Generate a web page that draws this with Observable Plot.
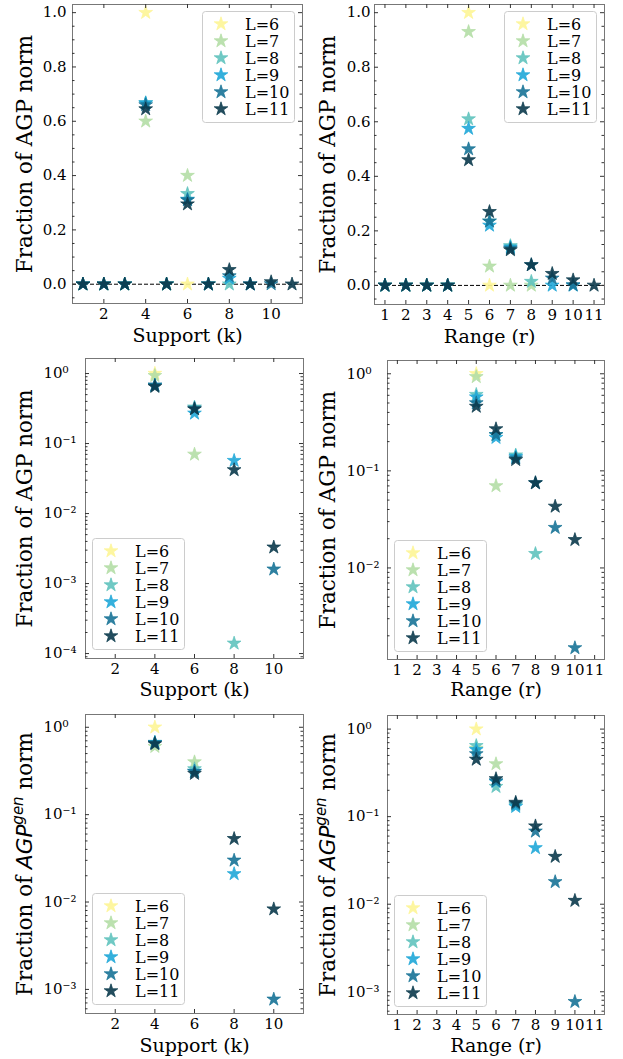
<!DOCTYPE html>
<html><head><meta charset="utf-8">
<script src="https://cdn.jsdelivr.net/npm/d3@7"></script>
<script src="https://cdn.jsdelivr.net/npm/@observablehq/plot@0.6"></script>
<style>
body{margin:0;background:#fff;}
#fig{position:relative;width:623px;height:1059px;overflow:hidden;background:#fff;}
</style></head><body><div id="fig"></div><script>
// ---------- data ----------
const LS = [6, 7, 8, 9, 10, 11];
const seriesNames = LS.map(l => `L=${l}`);
const palette = ["#fdf596", "#b4dea6", "#60c3be", "#1fa7d8", "#187397", "#0b3a4c"];

// rows: [L, x, value]
// Support (k): top-left (linear) and bottom-left (log, AGP^gen)
const supportAgpGen = [
  [6,1,0],[6,2,0],[6,3,0],[6,4,1.0],[6,5,0],[6,6,0],
  [7,1,0],[7,2,0],[7,3,0],[7,4,0.60],[7,5,0],[7,6,0.40],[7,7,0],
  [8,1,0],[8,2,0],[8,3,0],[8,4,0.667],[8,5,0],[8,6,0.333],[8,7,0],[8,8,0],
  [9,1,0],[9,2,0],[9,3,0],[9,4,0.667],[9,5,0],[9,6,0.312],[9,7,0],[9,8,0.021],[9,9,0],
  [10,1,0],[10,2,0],[10,3,0],[10,4,0.66],[10,5,0],[10,6,0.31],[10,7,0],[10,8,0.030],[10,9,0],[10,10,0.00077],
  [11,1,0],[11,2,0],[11,3,0],[11,4,0.645],[11,5,0],[11,6,0.295],[11,7,0],[11,8,0.053],[11,9,0],[11,10,0.0083],[11,11,0]
];
// Range (r): top-right (linear) and middle-right (log)
const rangeAgp = [
  [6,1,0],[6,2,0],[6,3,0],[6,4,0],[6,5,1.0],[6,6,0],
  [7,1,0],[7,2,0],[7,3,0],[7,4,0],[7,5,0.93],[7,6,0.07],[7,7,0],[7,8,0],
  [8,1,0],[8,2,0],[8,3,0],[8,4,0],[8,5,0.61],[8,6,0.235],[8,7,0.145],[8,8,0.014],
  [9,1,0],[9,2,0],[9,3,0],[9,4,0],[9,5,0.575],[9,6,0.22],[9,7,0.14],[9,9,0],[9,10,0],
  [10,1,0],[10,2,0],[10,3,0],[10,4,0],[10,5,0.50],[10,6,0.235],[10,7,0.135],[10,8,0.075],[10,9,0.026],[10,10,0.0015],
  [11,1,0],[11,2,0],[11,3,0],[11,4,0],[11,5,0.46],[11,6,0.27],[11,7,0.13],[11,8,0.075],[11,9,0.043],[11,10,0.0195],[11,11,0]
];
// Support (k): middle-left (log)
const supportAgp = [
  [6,4,1.0],
  [7,4,0.93],[7,6,0.07],
  [8,4,0.67],[8,6,0.33],[8,8,0.00014],
  [9,4,0.673],[9,6,0.27],[9,8,0.057],
  [10,4,0.68],[10,6,0.318],[10,10,0.0016],
  [11,4,0.65],[11,6,0.31],[11,8,0.042],[11,10,0.0033]
];
// Range (r): bottom-right (log, AGP^gen)
const rangeAgpGen = [
  [6,5,1.0],
  [7,5,0.60],[7,6,0.40],
  [8,5,0.645],[8,6,0.22],[8,7,0.135],
  [9,5,0.58],[9,6,0.25],[9,7,0.13],[9,8,0.044],
  [10,5,0.52],[10,6,0.255],[10,7,0.14],[10,8,0.068],[10,9,0.018],[10,10,0.00077],
  [11,5,0.45],[11,6,0.27],[11,7,0.145],[11,8,0.078],[11,9,0.035],[11,10,0.011]
];

const supportTicks = [2, 4, 6, 8, 10];
const rangeTicks = [1, 2, 3, 4, 5, 6, 7, 8, 9, 10, 11];
const linearTicks = [0, 0.2, 0.4, 0.6, 0.8, 1.0];
const yLabelAgp = "Fraction of AGP norm";
const yLabelGen = "Fraction of AGPgen norm";
const xLabelSupport = "Support (k)";
const xLabelRange = "Range (r)";

// ---------- drawing ----------
const fig = document.getElementById("fig");
const FONT = "DejaVu Serif";
const starR = 4.3;
const TICK_FS = 15;
const SUP = {"0":"⁰","1":"¹","2":"²","3":"³","4":"⁴","5":"⁵","6":"⁶","7":"⁷","8":"⁸","9":"⁹","-":"⁻"};
const logFmt = v => "10" + String(Math.round(Math.log10(v))).split("").map(c => SUP[c]).join("");

function panel(o) {
  const rows = o.data.map(([L, x, v]) => ({L, x, v})).filter(d => !o.log || d.v > 0);
  const innerW = o.width - o.mL - o.mR, innerH = o.height - o.mT - o.mB;
  let yMajor, yMinor;
  if (o.log) {
    yMajor = []; yMinor = [];
    for (let e = -5; e <= 1; e++) {
      const b = Math.pow(10, e);
      if (b >= o.yDomain[0] && b <= o.yDomain[1]) yMajor.push(b);
      for (let m = 2; m <= 9; m++) { const v = m * b; if (v >= o.yDomain[0] && v <= o.yDomain[1]) yMinor.push(v); }
    }
  } else {
    yMajor = linearTicks;
    yMinor = d3.range(-0.05, 1.0501, 0.05).filter(v => v >= o.yDomain[0] && v <= o.yDomain[1] && Math.abs(Math.round(v * 5) - v * 5) > 1e-6);
  }
  const tk = {stroke: "#333", strokeWidth: 1};
  const svg = Plot.plot({
    width: o.width, height: o.height,
    marginLeft: o.mL, marginRight: o.mR, marginTop: o.mT, marginBottom: o.mB,
    style: {fontFamily: FONT, fontSize: TICK_FS + "px", background: "transparent", overflow: "visible"},
    x: {domain: [0.5, 11.5], label: null},
    y: o.log ? {type: "log", domain: o.yDomain, label: null} : {domain: o.yDomain, label: null},
    color: {type: "ordinal", domain: LS, range: palette},
    marks: [
      o.log ? null : Plot.ruleY([0], {stroke: "#000", strokeWidth: 1, strokeDasharray: "4,2"}),
      Plot.dot(rows, {x: "x", y: "v", fill: "L", stroke: "L", strokeWidth: 0.8, symbol: "star", r: starR, fillOpacity: 0.9, strokeOpacity: 0.9}),
      Plot.frame({stroke: "#777", strokeWidth: 1}),
      Plot.tickX(o.xTicks, {x: d => d, insetTop: innerH - 4, ...tk}),
      Plot.tickX(o.xTicks, {x: d => d, insetBottom: innerH - 4, ...tk}),
      Plot.tickY(yMajor, {y: d => d, insetRight: innerW - 4, ...tk}),
      Plot.tickY(yMajor, {y: d => d, insetLeft: innerW - 4, ...tk}),
      Plot.tickY(yMinor, {y: d => d, insetRight: innerW - 2.5, ...tk}),
      Plot.tickY(yMinor, {y: d => d, insetLeft: innerW - 2.5, ...tk}),
      Plot.axisX(o.xTicks, {tickSize: 0, tickPadding: 5, fontSize: TICK_FS, label: null}),
      o.log
        ? Plot.axisY(yMajor, {tickSize: 0, tickPadding: o.yPad, textAnchor: "start", tickFormat: logFmt, fontSize: TICK_FS, label: null})
        : Plot.axisY(yMajor, {tickSize: 0, tickPadding: o.yPad, tickFormat: d3.format(".1f"), fontSize: TICK_FS, label: null}),
      Plot.text([o.xLabel], {text: d => d, frameAnchor: "bottom", dy: o.xLabelDy, fontSize: 19, textAnchor: "middle", lineAnchor: "middle"}),
      Plot.text([o.yLabel], {text: d => d, frameAnchor: "left", dx: o.yLabelDx, rotate: -90, fontSize: 21.5, textAnchor: "middle", lineAnchor: "middle"})
    ]
  });
  svg.style.position = "absolute";
  svg.style.left = o.left + "px";
  svg.style.top = o.top + "px";
  // italic math label for AGP^gen
  for (const t of svg.querySelectorAll("text")) {
    if (t.textContent === yLabelGen) {
      t.textContent = "";
      const add = (txt, attrs) => {
        const s = document.createElementNS("http://www.w3.org/2000/svg", "tspan");
        s.textContent = txt;
        for (const k in attrs) s.setAttribute(k, attrs[k]);
        t.appendChild(s);
      };
      add("Fraction of ", {});
      add("AGP", {"font-family": "DejaVu Sans", "font-style": "italic"});
      add("gen", {"font-family": "DejaVu Sans", "font-style": "italic", "font-size": "15", "dy": "-9"});
      add(" norm", {"dy": "9"});
    }
  }
  fig.appendChild(svg);
  legend(o.legend[0], o.legend[1]);
}

function legend(left, top) {
  const w = 93, h = 112;
  const svg = d3.create("svg").attr("width", w).attr("height", h)
    .style("position", "absolute").style("left", left + "px").style("top", top + "px");
  svg.append("rect").attr("x", 0.5).attr("y", 0.5).attr("width", w - 1).attr("height", h - 1)
    .attr("rx", 3).attr("fill", "white").attr("fill-opacity", 0.8).attr("stroke", "#cccccc");
  const star = d3.symbol(d3.symbolStar, starR * starR * Math.PI)();
  seriesNames.forEach((name, i) => {
    const y = 13 + i * 17;
    svg.append("path").attr("d", star).attr("transform", `translate(19,${y})`)
      .attr("fill", palette[i]).attr("fill-opacity", 0.9)
      .attr("stroke", palette[i]).attr("stroke-width", 0.8).attr("stroke-opacity", 0.9);
    svg.append("text").attr("x", 43).attr("y", y).attr("dy", "0.36em")
      .attr("font-size", 16).attr("font-family", FONT).text(name);
  });
  fig.appendChild(svg.node());
}

panel({data: supportAgpGen, log: false, yDomain: [-0.071, 1.03], xTicks: supportTicks,
  xLabel: xLabelSupport, yLabel: yLabelAgp, left: 0, top: 0, width: 311, height: 350,
  mL: 72, mR: 9, mT: 4, mB: 47, yPad: 6, xLabelDy: 32, yLabelDx: -47, legend: [202, 11]});
panel({data: rangeAgp, log: false, yDomain: [-0.07, 1.03], xTicks: rangeTicks,
  xLabel: xLabelRange, yLabel: yLabelAgp, left: 311, top: 0, width: 312, height: 350,
  mL: 63, mR: 19, mT: 4, mB: 46, yPad: 4, xLabelDy: 32, yLabelDx: -46.5, legend: [504, 11]});
panel({data: supportAgp, log: true, yDomain: [8.5e-5, 1.64], xTicks: supportTicks,
  xLabel: xLabelSupport, yLabel: yLabelAgp, left: 0, top: 340, width: 311, height: 360,
  mL: 85, mR: 8, mT: 18, mB: 42, yPad: 42, xLabelDy: 31, yLabelDx: -60, legend: [92, 538]});
panel({data: rangeAgp, log: true, yDomain: [1.14e-3, 1.37], xTicks: rangeTicks,
  xLabel: xLabelRange, yLabel: yLabelAgp, left: 311, top: 340, width: 312, height: 360,
  mL: 76, mR: 19, mT: 20, mB: 41, yPad: 41, xLabelDy: 30, yLabelDx: -59.5, legend: [394, 540]});
panel({data: supportAgpGen, log: true, yDomain: [5.3e-4, 1.40], xTicks: supportTicks,
  xLabel: xLabelSupport, yLabel: yLabelGen, left: 0, top: 700, width: 311, height: 359,
  mL: 85, mR: 8, mT: 14, mB: 46, yPad: 42, xLabelDy: 32, yLabelDx: -60, legend: [92, 893]});
panel({data: rangeAgpGen, log: true, yDomain: [5.5e-4, 1.43], xTicks: rangeTicks,
  xLabel: xLabelRange, yLabel: yLabelGen, left: 311, top: 700, width: 312, height: 359,
  mL: 76, mR: 19, mT: 15, mB: 45, yPad: 41, xLabelDy: 31, yLabelDx: -59.5, legend: [394, 895]});
</script></body></html>
